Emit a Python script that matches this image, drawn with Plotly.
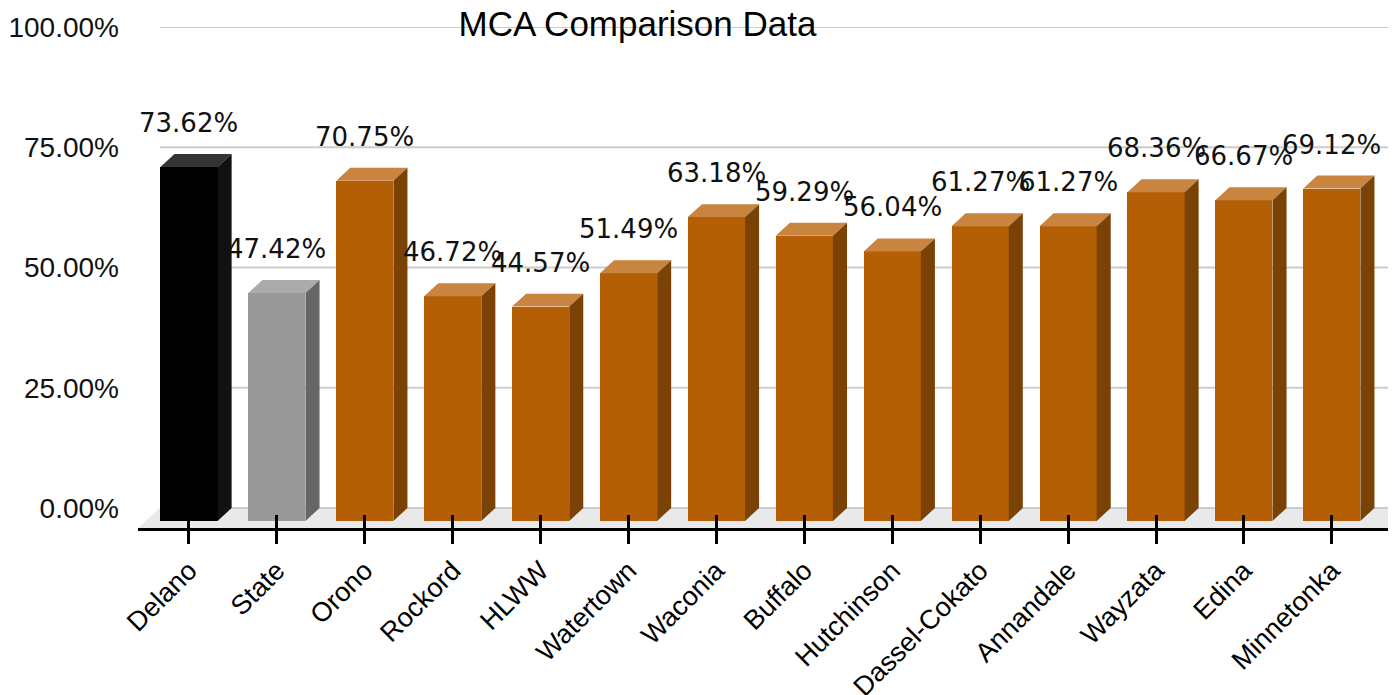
import plotly.graph_objects as go

# data
schools = ["Delano", "State", "Orono", "Rockord", "HLWW", "Watertown", "Waconia",
           "Buffalo", "Hutchinson", "Dassel-Cokato", "Annandale", "Wayzata", "Edina", "Minnetonka"]
pct = [73.62, 47.42, 70.75, 46.72, 44.57, 51.49, 63.18, 59.29, 56.04, 61.27, 61.27, 68.36, 66.67, 69.12]

# colours: (front, top, side)
black_cols = ("#000000", "#333333", "#111111")
grey_cols = ("#999999", "#ababab", "#666666")
orange_cols = ("#b45f06", "#c98540", "#7b4206")
col_for = [black_cols, grey_cols] + [orange_cols] * (len(schools) - 2)

# fake 3d geometry (in axis units)
bar_w = 0.65
dx = 0.16        # depth offset sideways
dy = 2.7         # depth offset downward (percent units)
x_lo, x_hi = -0.58, 13.73
floor_d = 4.16
wall_x0 = x_lo + 0.25

# page body has an 8px margin, so shift everything up/left by that
pad = 8

xs = list(range(len(schools)))

fig = go.Figure()

# front faces
fig.add_trace(go.Bar(
    x=xs, y=pct, base=[-dy] * len(pct), width=bar_w,
    marker=dict(color=[c[0] for c in col_for], line=dict(width=0)),
    hoverinfo="skip", showlegend=False))

# top and side faces, grouped by colour
groups = {}
for i, v in enumerate(pct):
    groups.setdefault(col_for[i], []).append((i, v))

for cols, items in groups.items():
    tx, ty, sx, sy = [], [], [], []
    for i, v in items:
        l, r = i - bar_w / 2, i + bar_w / 2
        tx += [l, r, r + dx, l + dx, l, None]
        ty += [v - dy, v - dy, v, v, v - dy, None]
        sx += [r, r, r + dx, r + dx, r, None]
        sy += [-dy, v - dy, v, 0, -dy, None]
    fig.add_trace(go.Scatter(x=tx, y=ty, mode="lines", fill="toself", fillcolor=cols[1],
                             line=dict(width=0, color=cols[1]), hoverinfo="skip",
                             showlegend=False, xaxis="x2"))
    fig.add_trace(go.Scatter(x=sx, y=sy, mode="lines", fill="toself", fillcolor=cols[2],
                             line=dict(width=0, color=cols[2]), hoverinfo="skip",
                             showlegend=False, xaxis="x2"))

# value labels
for i, v in enumerate(pct):
    fig.add_annotation(x=i, y=v, text=f"{v:.2f}%", showarrow=False, yanchor="bottom",
                       yshift=14, font=dict(family="DejaVu Sans", size=26, color="#111111"))

# floor and back-wall gridlines
shapes = [dict(type="path", xref="x", yref="y", layer="below", line=dict(width=0),
               fillcolor="#e9e9e9",
               path=f"M {x_lo},{-floor_d} L {x_hi},{-floor_d} L {x_hi},0 L {wall_x0},0 Z")]
for g in [0, 25, 50, 75, 100]:
    shapes.append(dict(type="line", xref="x", yref="y", layer="below", x0=wall_x0, x1=x_hi,
                       y0=g, y1=g, line=dict(color="#cccccc", width=2)))

fig.update_layout(
    width=1396, height=695,
    margin=dict(l=138 - pad, r=pad, t=27 - pad, b=167 + pad),
    plot_bgcolor="white", paper_bgcolor="white",
    shapes=shapes,
    title=dict(text="MCA Comparison Data", x=(637.5 - pad) / 1396, xanchor="center",
               y=1 - (24 - pad) / 695, yanchor="middle", xref="container", yref="container",
               font=dict(family="Liberation Sans", size=35, color="black")),
    xaxis=dict(range=[x_lo, x_hi], tickvals=xs, ticktext=schools, tickangle=-45,
               showgrid=False, zeroline=False, showline=True, linecolor="black", linewidth=3,
               ticks="outside", ticklen=13, tickwidth=3, tickcolor="black", automargin=False,
               tickfont=dict(family="Liberation Sans", size=27, color="black")),
    xaxis2=dict(range=[x_lo, x_hi], overlaying="x", anchor="y", side="bottom",
                tickvals=xs, showticklabels=False, showgrid=False, zeroline=False,
                ticks="inside", ticklen=13, tickwidth=3, tickcolor="black", automargin=False),
    yaxis=dict(range=[-floor_d, 100.01], tick0=0, dtick=25, tickformat=".2f", ticksuffix="%",
               showgrid=False, zeroline=False, showline=False, ticklabelstandoff=18,
               automargin=False,
               tickfont=dict(family="Liberation Sans", size=28, color="#111111")),
    bargap=0,
)

fig.write_html("out.html")
